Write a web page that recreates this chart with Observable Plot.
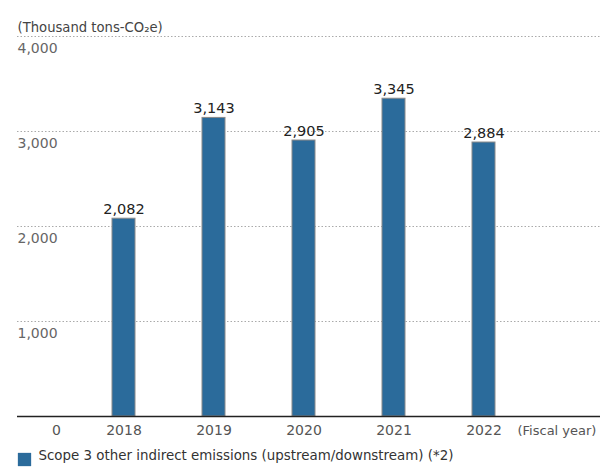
<!DOCTYPE html>
<html>
<head>
<meta charset="utf-8">
<script src="https://cdn.jsdelivr.net/npm/d3@7"></script>
<script src="https://cdn.jsdelivr.net/npm/@observablehq/plot@0.6"></script>
<style>
  html, body { margin: 0; padding: 0; background: #fff; }
  svg { display: block; }
</style>
</head>
<body>
<div id="chart"></div>
<script>
const years = [2018, 2019, 2020, 2021, 2022];
const values = [2082, 3143, 2905, 3345, 2884];
const yTicks = [1000, 2000, 3000, 4000];
const yTickLabels = ["1,000", "2,000", "3,000", "4,000"];
const zeroLabel = "0";
const unitLabel = "(Thousand tons-CO\u2082e)";
const xUnitLabel = "(Fiscal year)";
const seriesName = "Scope 3 other indirect emissions (upstream/downstream) (*2)";

const data = years.map((y, i) => ({year: y, value: values[i]}));
const ticks = yTicks.map((v, i) => ({v, label: yTickLabels[i]}));

const W = 601, H = 469;
const font = "'DejaVu Sans', 'Open Sans', sans-serif";
const blue = "#2b6b9b";

const chart = Plot.plot({
  width: W,
  height: H,
  marginLeft: 17,
  marginRight: 1,
  marginTop: 36,
  marginBottom: 53,
  style: {fontFamily: font, background: "#fff", overflow: "visible"},
  x: {type: "linear", domain: [2018 - 106.5 / 90, 2018 + 476.5 / 90], axis: null},
  y: {domain: [0, 4000], axis: null},
  marks: [
    Plot.ruleY(yTicks, {stroke: "#aaa", strokeWidth: 1, strokeDasharray: "1.5,2"}),
    Plot.rectY(data, {
      x1: d => d.year - 0.5, x2: d => d.year + 0.5, y1: 0, y2: "value",
      insetLeft: 33.5, insetRight: 33.5,
      fill: blue, stroke: "#8a8a8a", strokeWidth: 1
    }),
    Plot.ruleY([0], {stroke: "#222", strokeWidth: 1.5}),
    Plot.text(data, {
      x: "year", y: "value", text: d => d3.format(",")(d.value),
      lineAnchor: "bottom", dy: -5, fontSize: 14.5, fill: "#222"
    }),
    Plot.text(ticks, {
      y: "v", text: "label", frameAnchor: "left", textAnchor: "start",
      dy: 12.5, fontSize: 14, fill: "#666"
    }),
    Plot.text(data, {
      x: "year", y: 0, text: d => String(d.year), dy: 14, fontSize: 14, fill: "#555"
    }),
    Plot.text([zeroLabel], {
      x: 2018 - 67.5 / 90, y: 0, text: d => d, dy: 14, fontSize: 14, fill: "#555"
    }),
    Plot.text([xUnitLabel], {
      x: 2018 + 393.5 / 90, y: 0, text: d => d, textAnchor: "start", dy: 14, fontSize: 13, fill: "#555"
    }),
    Plot.text([unitLabel], {
      frameAnchor: "top-left", text: d => d, textAnchor: "start", dy: -14, fontSize: 13.2, fill: "#444"
    }),
    Plot.dot([seriesName], {
      frameAnchor: "bottom-left", symbol: "square", r: 7.5, fill: blue,
      dx: 7, dy: 43
    }),
    Plot.text([seriesName], {
      frameAnchor: "bottom-left", text: d => d, textAnchor: "start",
      dx: 21, dy: 43, fontSize: 13.4, fill: "#333"
    })
  ]
});
document.getElementById("chart").appendChild(chart);
</script>
</body>
</html>
